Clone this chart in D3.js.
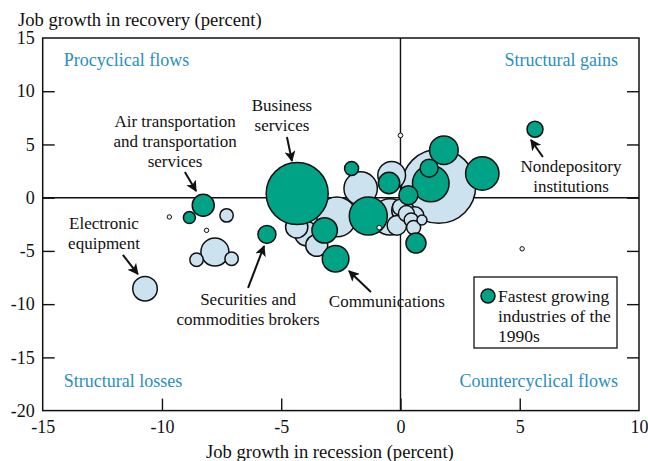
<!DOCTYPE html>
<html><head><meta charset="utf-8">
<script src="https://cdn.jsdelivr.net/npm/d3@7"></script>
<style>
body{margin:0;background:#fff;}
svg{display:block;}
text{font-family:"Liberation Serif","Times New Roman",serif;fill:#111;}
</style></head>
<body>
<svg id="chart" width="648" height="461"></svg>
<script>
// Data (x = job growth in recession, y = job growth in recovery, emp = employment, thousands)
const fastX   = [-4.33,-5.60,-2.05,-3.18,-2.72,-1.35,-0.48,0.33,1.20,1.27,1.82,3.43,0.65,5.64,-8.27,-8.85];
const fastY   = [0.39,-3.45,2.74,-3.07,-5.73,-1.72,1.38,0.23,2.77,1.33,4.46,2.27,-4.26,6.43,-0.71,-1.87];
const fastEmp = [7000,590,357,1175,1290,2630,834,657,590,2440,1490,2030,729,466,881,262];

const otherX   = [1.60,-1.67,-2.67,-4.35,-3.93,-3.51,-0.44,-0.37,0.00,0.25,0.45,0.90,0.55,0.10,-0.15,0.60,-7.29,-7.78,-8.55,-7.08,-10.71,-9.69,-8.13,0.00,5.10,-0.89];
const otherY   = [1.07,0.86,-1.80,-2.75,-3.40,-4.48,-1.80,2.10,-0.90,-1.50,-2.10,-2.10,-2.80,-1.20,-2.60,-1.70,-1.66,-5.10,-5.83,-5.73,-8.55,-1.81,-3.07,5.85,-4.80,-2.81];
const otherEmp = [10000,2030,2900,900,1050,880,2400,1400,470,470,360,180,360,900,700,600,327,1428,327,327,1100,30,30,40,30,40];

const xTicks = [-15,-10,-5,0,5,10];
const yTicks = [15,10,5,0,-5,-10,-15,-20];

const quadrantLabels = ["Procyclical flows","Structural gains","Structural losses","Countercyclical flows"];
const annLines = [["Business","services"],["Air transportation","and transportation","services"],["Electronic","equipment"],["Securities and","commodities brokers"],["Communications"],["Nondepository","institutions"]];
const annX = [-4.97,-9.45,-12.43,-6.39,-0.57,7.15];
const annY = [8.14,6.64,-2.94,-10.08,-10.27,2.41];
const arrowFromX = [-4.76,-9.04,-11.64,-6.39,-1.24,5.97];
const arrowFromY = [5.70,2.41,-5.38,-8.48,-8.86,3.82];
const arrowToX   = [-4.55,-8.57,-11.01,-5.72,-2.16,5.47];
const arrowToY   = [3.45,0.63,-7.17,-4.54,-6.89,5.42];
const legendLines = ["Fastest growing","industries of the","1990s"];

const GREEN = "#00a386", LIGHT = "#cce2ef", QBLUE = "#2a8ec2";

const svg = d3.select("#chart");
const L = 42.7, R = 639, T = 38, B = 410.6;
const x = d3.scaleLinear().domain([-15,10]).range([L,R]);
const y = d3.scaleLinear().domain([-20,15]).range([B,T]);
const r = d3.scaleSqrt().domain([0,7000]).range([0,31]);

// Axes
const yAxis = d3.axisLeft(y).tickValues(yTicks).tickSizeInner(-12).tickSizeOuter(0).tickPadding(8).tickFormat(d=>String(d));
const gy = svg.append("g").attr("transform",`translate(${L},0)`).call(yAxis);
gy.select(".domain").remove();
gy.selectAll(".tick line").attr("stroke","#111").attr("stroke-width",1.4).filter(d=>d===15||d===-20).remove();
gy.selectAll(".tick text").attr("font-size",18).attr("font-family","Liberation Serif").attr("fill","#111");

const yAxisR = d3.axisRight(y).tickValues(yTicks.filter(d=>d<15&&d>-20)).tickSizeInner(-12).tickSizeOuter(0).tickFormat("");
const gyr = svg.append("g").attr("transform",`translate(${R},0)`).call(yAxisR);
gyr.select(".domain").remove();
gyr.selectAll(".tick line").attr("stroke","#111").attr("stroke-width",1.4);

const xAxis = d3.axisBottom(x).tickValues(xTicks).tickSizeInner(-12).tickSizeOuter(0).tickPadding(10).tickFormat(d=>String(d));
const gx = svg.append("g").attr("transform",`translate(0,${B})`).call(xAxis);
gx.select(".domain").remove();
gx.selectAll(".tick line").attr("stroke","#111").attr("stroke-width",1.4).filter(d=>d===-15||d===10).remove();
gx.selectAll(".tick text").attr("font-size",18).attr("font-family","Liberation Serif").attr("fill","#111");

// Frame and quadrant lines
svg.append("rect").attr("x",L).attr("y",T).attr("width",R-L).attr("height",B-T).attr("fill","none").attr("stroke","#111").attr("stroke-width",1.5);
svg.append("line").attr("x1",x(0)).attr("x2",x(0)).attr("y1",T).attr("y2",B).attr("stroke","#111").attr("stroke-width",1.4);
svg.append("line").attr("x1",L).attr("x2",R).attr("y1",y(0)).attr("y2",y(0)).attr("stroke","#111").attr("stroke-width",1.4);

// Axis titles
svg.append("text").attr("x",18).attr("y",26).attr("font-size",18.6).text("Job growth in recovery (percent)");
svg.append("text").attr("x",(L+R)/2-11).attr("y",458).attr("text-anchor","middle").attr("font-size",18.6).text("Job growth in recession (percent)");

// Quadrant labels
const qpos = [[L+21,66,"start"],[R-21,66,"end"],[L+21,387,"start"],[R-21,387,"end"]];
quadrantLabels.forEach((t,i)=>{
  svg.append("text").attr("x",qpos[i][0]).attr("y",qpos[i][1]).attr("text-anchor",qpos[i][2])
    .attr("font-size",18).style("fill",QBLUE).text(t);
});

// Bubbles
const others = otherX.map((v,i)=>({x:v,y:otherY[i],emp:otherEmp[i],fast:false}));
const fast = fastX.map((v,i)=>({x:v,y:fastY[i],emp:fastEmp[i],fast:true}));
const big = others.filter(d=>d.emp>=100).sort((a,b)=>b.emp-a.emp);
const tiny = others.filter(d=>d.emp<100);
const fastSorted = fast.slice().sort((a,b)=>b.emp-a.emp);
const all = big.concat(fastSorted, tiny);
svg.append("g").selectAll("circle").data(all).join("circle")
  .attr("cx",d=>x(d.x)).attr("cy",d=>y(d.y)).attr("r",d=>Math.max(2.2,r(d.emp)))
  .attr("fill",d=>d.fast?GREEN:(d.emp<100?"#eef5fa":LIGHT))
  .attr("stroke","#111").attr("stroke-width",d=>d.emp<100?1:1.5);

// Arrows
const defs = svg.append("defs");
defs.append("marker").attr("id","ah").attr("viewBox","0 0 10 10").attr("refX",9).attr("refY",5)
  .attr("markerWidth",11).attr("markerHeight",11).attr("markerUnits","userSpaceOnUse").attr("orient","auto")
  .append("path").attr("d","M0,0 L10,5 L0,10 L2.5,5 Z").attr("fill","#111");
arrowFromX.forEach((v,i)=>{
  svg.append("line").attr("x1",x(v)).attr("y1",y(arrowFromY[i])).attr("x2",x(arrowToX[i])).attr("y2",y(arrowToY[i]))
    .attr("stroke","#111").attr("stroke-width",2).attr("marker-end","url(#ah)");
});

// Annotation labels
annLines.forEach((lines,i)=>{
  const t = svg.append("text").attr("text-anchor","middle").attr("font-size",17);
  lines.forEach((s,j)=>{
    t.append("tspan").attr("x",x(annX[i])).attr("y",y(annY[i])+j*20).text(s);
  });
});

// Legend
svg.append("rect").attr("x",474).attr("y",277).attr("width",143).attr("height",71).attr("fill","#fff").attr("stroke","#111").attr("stroke-width",1.3);
svg.append("circle").attr("cx",488).attr("cy",296).attr("r",7).attr("fill",GREEN).attr("stroke","#111").attr("stroke-width",1.5);
legendLines.forEach((s,j)=>{
  svg.append("text").attr("x",498).attr("y",302+j*20).attr("font-size",17.5).text(s);
});
</script>
</body></html>
